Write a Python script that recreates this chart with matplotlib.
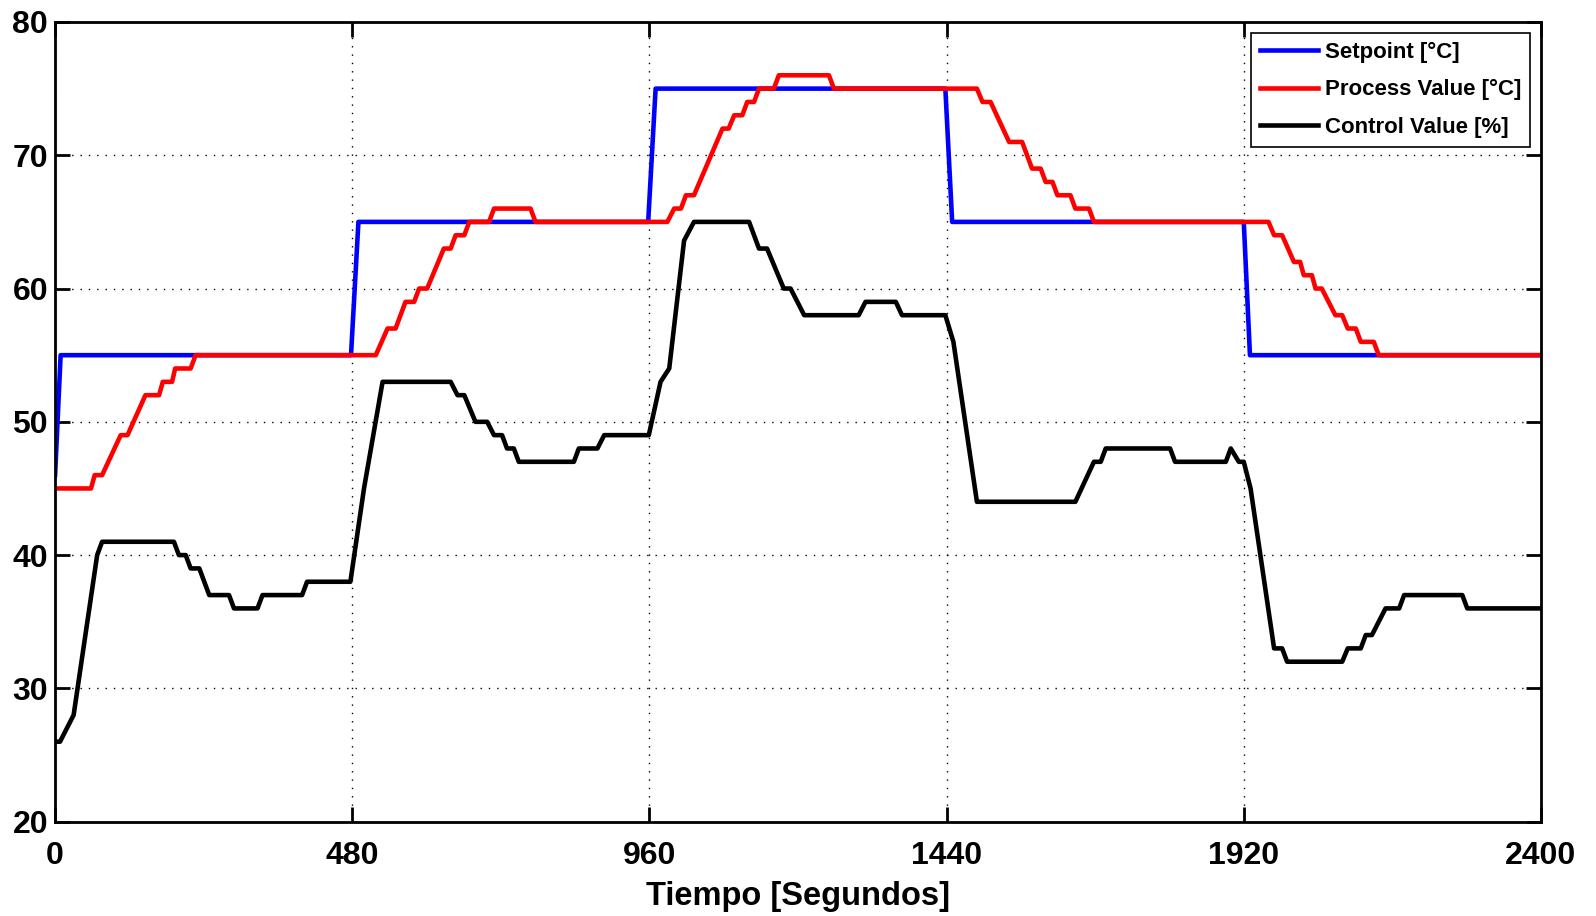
import matplotlib
matplotlib.use("Agg")
import matplotlib.pyplot as plt

# Setpoint [C]
sp_time = [0, 9, 478, 490, 958, 970, 1438, 1449, 1920, 1930, 2400]
sp_value = [46, 55, 55, 65, 65, 75, 75, 65, 65, 55, 55]

# Process Value [C]
pv_time = [0, 58, 64, 76, 106, 117, 146, 168, 174, 189, 194, 219, 227,
           518, 537, 550, 566, 580, 588, 601, 628, 639, 647, 661, 669, 701, 709, 768, 776,
           989, 1000, 1011, 1019, 1032, 1078, 1088, 1097, 1110, 1118, 1129, 1137, 1161, 1169, 1250, 1258,
           1489, 1498, 1511, 1541, 1562, 1578, 1592, 1600, 1611, 1619, 1640, 1648, 1670, 1678,
           1960, 1969, 1982, 2001, 2011, 2017, 2030, 2036, 2046, 2068, 2079, 2088, 2101, 2109, 2130, 2138, 2400]
pv_value = [45, 45, 46, 46, 49, 49, 52, 52, 53, 53, 54, 54, 55,
            55, 57, 57, 59, 59, 60, 60, 63, 63, 64, 64, 65, 65, 66, 66, 65,
            65, 66, 66, 67, 67, 72, 72, 73, 73, 74, 74, 75, 75, 76, 76, 75,
            75, 74, 74, 71, 71, 69, 69, 68, 68, 67, 67, 66, 66, 65,
            65, 64, 64, 62, 62, 61, 61, 60, 60, 58, 58, 57, 57, 56, 56, 55, 55]

# Control Value [%]
cv_time = [0, 8, 30, 68, 76, 192, 200, 211, 219, 233, 249, 281, 289, 327, 335, 399, 407, 477,
           499, 529, 639, 650, 661, 679, 698, 709, 722, 730, 741, 749, 838, 846, 876, 887, 959,
           978, 992, 1016, 1032, 1121, 1137, 1150, 1177, 1188, 1210, 1298, 1309, 1358, 1368, 1438,
           1451, 1489, 1648, 1678, 1689, 1697, 1801, 1809, 1891, 1899, 1912, 1920,
           1931, 1969, 1982, 1990, 2079, 2088, 2109, 2117, 2127, 2149, 2171, 2179, 2273, 2281, 2400]
cv_value = [26, 26, 28, 40, 41, 41, 40, 40, 39, 39, 37, 37, 36, 36, 37, 37, 38, 38,
            45, 53, 53, 52, 52, 50, 50, 49, 49, 48, 48, 47, 47, 48, 48, 49, 49,
            53, 54, 63.6, 65, 65, 63, 63, 60, 60, 58, 58, 59, 59, 58, 58,
            56, 44, 44, 47, 47, 48, 48, 47, 47, 48, 47, 47,
            45, 33, 33, 32, 32, 33, 33, 34, 34, 36, 36, 37, 37, 36, 36]

x_ticks = [0, 480, 960, 1440, 1920, 2400]
y_ticks = [20, 30, 40, 50, 60, 70, 80]

plt.rcParams['font.family'] = ['Liberation Sans', 'DejaVu Sans']
plt.rcParams['font.weight'] = 'bold'

fig = plt.figure(figsize=(15.96, 9.16), dpi=100)
ax = fig.add_axes([0.0345, 0.103, 0.931, 0.873])

# Plot the three signals (red on top of blue like the original)
ax.plot(sp_time, sp_value, color='#0000ff', lw=3.3, label='Setpoint [°C]')
ax.plot(pv_time, pv_value, color='#ff0000', lw=3.3, label='Process Value [°C]')
ax.plot(cv_time, cv_value, color='black', lw=3.3, label='Control Value [%]')

ax.set_xlim(0, 2400)
ax.set_ylim(20, 80)
ax.set_xticks(x_ticks)
ax.set_yticks(y_ticks)
ax.grid(True, color='black', linestyle=(0, (1, 5)), linewidth=1)

for s in ax.spines.values():
    s.set_linewidth(2)
ax.tick_params(direction='in', length=11, width=2, top=True, right=True, labelsize=23)
ax.tick_params(axis='x', pad=14)
ax.tick_params(axis='y', pad=5)

ax.set_xlabel('Tiempo [Segundos]', fontsize=23.5, fontweight='bold', labelpad=7)

leg = ax.legend(loc='upper right', fontsize=16, fancybox=False, framealpha=1,
                edgecolor='black', handlelength=2.6, labelspacing=0.73,
                borderaxespad=0.5, handletextpad=0.3)
leg.get_frame().set_linewidth(1.2)

fig.savefig('out.png', dpi=100)
